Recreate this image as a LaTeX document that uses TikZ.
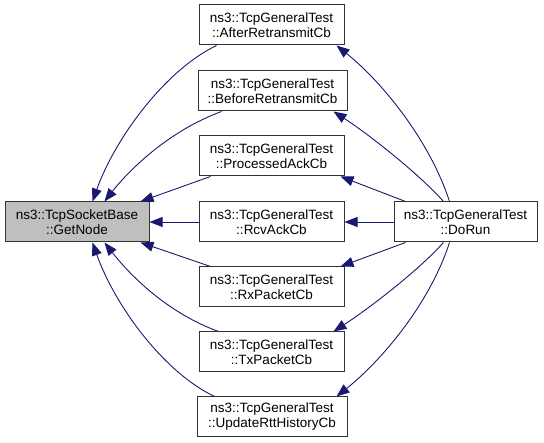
\documentclass[tikz,border=0pt]{standalone}
\usepackage{fontspec}
\setmainfont{Liberation Sans}
\usetikzlibrary{arrows.meta,calc}
\definecolor{edgeblue}{HTML}{191970}
\begin{document}
\begin{tikzpicture}[x=1pt,y=-1pt,
  box/.style={draw=black!80,line width=1pt,fill=white,align=center,inner sep=0pt,
    minimum height=40pt,font=\fontsize{13.5}{15}\selectfont},
  edge/.style={draw=edgeblue,line width=0.9pt,-{Triangle[length=13pt,width=10pt]}}]
\useasboundingbox (0,0) rectangle (544,443);
\node[box,fill=black!25,minimum width=144pt] (getnode) at (77,222) {ns3::TcpSocketBase\\::GetNode};
\node[box,minimum width=145pt] (after) at (271.5,25) {ns3::TcpGeneralTest\\::AfterRetransmitCb};
\node[box,minimum width=149pt] (before) at (272.5,91) {ns3::TcpGeneralTest\\::BeforeRetransmitCb};
\node[box,minimum width=145pt] (processed) at (271.5,156) {ns3::TcpGeneralTest\\::ProcessedAckCb};
\node[box,minimum width=145pt] (rcv) at (271.5,222) {ns3::TcpGeneralTest\\::RcvAckCb};
\node[box,minimum width=145pt] (rx) at (271.5,287) {ns3::TcpGeneralTest\\::RxPacketCb};
\node[box,minimum width=145pt] (tx) at (271.5,352) {ns3::TcpGeneralTest\\::TxPacketCb};
\node[box,minimum width=150pt] (update) at (272,417) {ns3::TcpGeneralTest\\::UpdateRttHistoryCb};
\node[box,minimum width=143pt] (dorun) at (465.5,222) {ns3::TcpGeneralTest\\::DoRun};
% middle -> getnode
\draw[edge] ($(after.south west)+(18,0)$) .. controls +(-52,25) and +(22,-62) .. ($(getnode.north west)+(88,0)$);
\draw[edge] ($(before.south west)+(24,0)$) .. controls +(-52,19) and +(25,-32) .. ($(getnode.north west)+(100,0)$);
\draw[edge] ($(processed.south west)+(12,0)$) -- ($(getnode.north east)+(-9,0)$);
\draw[edge] (rcv.west) -- (getnode.east);
\draw[edge] ($(rx.north west)+(12,0)$) -- ($(getnode.south east)+(-9,0)$);
\draw[edge] ($(tx.north west)+(20,0)$) .. controls +(-52,-19) and +(25,32) .. ($(getnode.south west)+(100,0)$);
\draw[edge] ($(update.north west)+(18,0)$) .. controls +(-52,-25) and +(22,62) .. ($(getnode.south west)+(88,0)$);
% dorun -> middle
\draw[edge] ($(dorun.north west)+(56,0)$) .. controls +(-20,-62) and +(44,35) .. ($(after.south east)+(-8,0)$);
\draw[edge] ($(dorun.north west)+(50,0)$) .. controls +(-24,-27) and +(37,24) .. ($(before.south east)+(-14,0)$);
\draw[edge] ($(dorun.north west)+(12,0)$) -- ($(processed.south east)+(-4,0)$);
\draw[edge] (dorun.west) -- (rcv.east);
\draw[edge] ($(dorun.south west)+(12,0)$) -- ($(rx.north east)+(-4,0)$);
\draw[edge] ($(dorun.south west)+(50,0)$) .. controls +(-24,27) and +(37,-24) .. ($(tx.north east)+(-11,0)$);
\draw[edge] ($(dorun.south west)+(56,0)$) .. controls +(-20,62) and +(44,-35) .. ($(update.north east)+(-11,0)$);
\end{tikzpicture}
\end{document}
